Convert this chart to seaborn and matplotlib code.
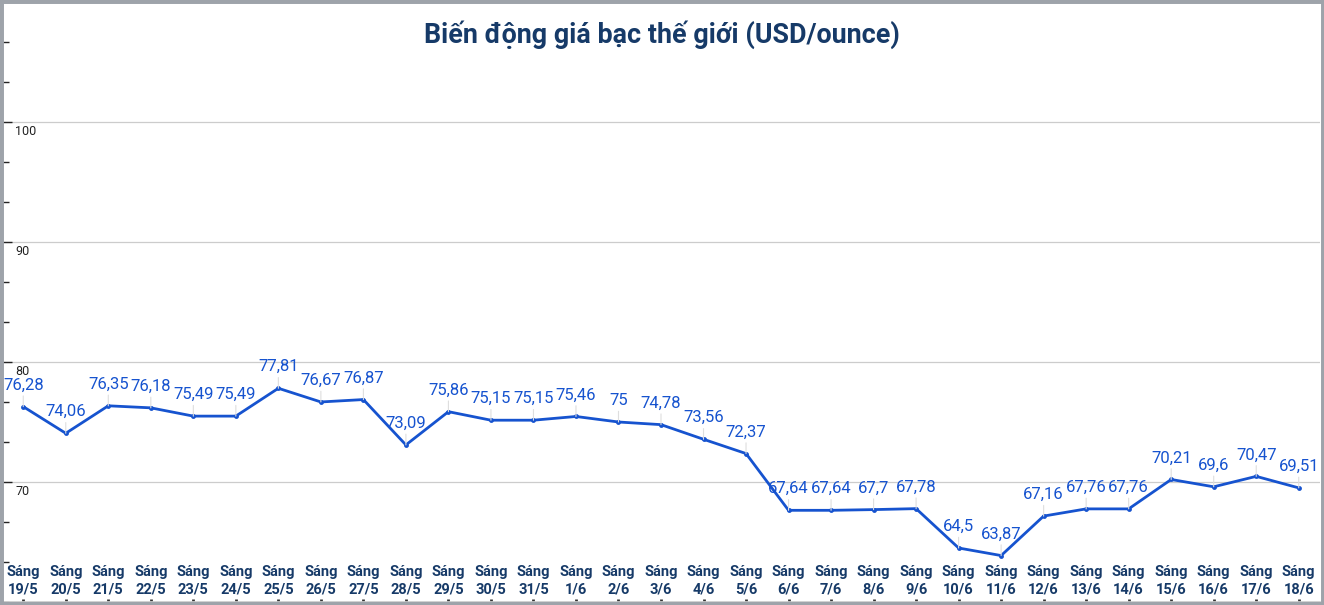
import numpy as np
import matplotlib
matplotlib.use("Agg")
import matplotlib.pyplot as plt
import matplotlib.transforms as mtransforms
import seaborn as sns
from matplotlib.patches import Rectangle
from matplotlib.ticker import MultipleLocator

dates = ["19/5", "20/5", "21/5", "22/5", "23/5", "24/5", "25/5", "26/5", "27/5", "28/5",
         "29/5", "30/5", "31/5", "1/6", "2/6", "3/6", "4/6", "5/6", "6/6", "7/6",
         "8/6", "9/6", "10/6", "11/6", "12/6", "13/6", "14/6", "15/6", "16/6", "17/6", "18/6"]
prices = [76.28, 74.06, 76.35, 76.18, 75.49, 75.49, 77.81, 76.67, 76.87, 73.09,
          75.86, 75.15, 75.15, 75.46, 75.00, 74.78, 73.56, 72.37, 67.64, 67.64,
          67.70, 67.78, 64.50, 63.87, 67.16, 67.76, 67.76, 70.21, 69.60, 70.47, 69.51]
price_labels = ["76,28", "74,06", "76,35", "76,18", "75,49", "75,49", "77,81", "76,67", "76,87", "73,09",
                "75,86", "75,15", "75,15", "75,46", "75", "74,78", "73,56", "72,37", "67,64", "67,64",
                "67,7", "67,78", "64,5", "63,87", "67,16", "67,76", "67,76", "70,21", "69,6", "70,47", "69,51"]
x_labels = ["Sáng\n" + d for d in dates]
y_ticks = [70, 80, 90, 100]
title = "Biến động giá bạc thế giới (USD/ounce)"

sns.set_theme(style="white")
plt.rcParams["font.family"] = ["Roboto", "DejaVu Sans"]

W, H = 1324, 605
fig = plt.figure(figsize=(W / 100, H / 100), dpi=100)
ax = fig.add_axes([2 / W, 3 / H, 1318 / W, 600 / H])

LINE = "#1653cf"
NAVY = "#163a68"

x = np.arange(len(prices))
sns.lineplot(x=x, y=prices, ax=ax, color=LINE, linewidth=2, marker="o",
             markersize=3.5, markeredgewidth=0, zorder=3)

for xi, v, lab in zip(x, prices, price_labels):
    ax.annotate(lab, xy=(xi, v), xytext=(0, 14), textcoords="offset pixels",
                ha="center", va="bottom", color=LINE, fontsize=12,
                arrowprops=dict(arrowstyle="-", color="#dedede", lw=0.8,
                                shrinkA=0, shrinkB=0, relpos=(0.5, 0.1)),
                zorder=4)

ax.set_xlim(-0.5, len(prices) - 0.5)
ax.set_ylim(60, 110)
ax.set_yticks(y_ticks)
ax.yaxis.set_minor_locator(MultipleLocator(10 / 3))
ax.grid(axis="y", which="major", color="#cccccc", linewidth=0.9)
ax.tick_params(axis="y", which="major", direction="in", length=7, width=1, color="#222222",
               labelleft=False, left=True)
ax.tick_params(axis="y", which="minor", direction="in", length=5, width=1, color="#222222", left=True)
ytrans = mtransforms.blended_transform_factory(ax.transAxes, ax.transData)
for yt in y_ticks:
    ax.annotate(str(yt), xy=(0, yt), xycoords=ytrans, xytext=(13, -3),
                textcoords="offset pixels", ha="left", va="top", fontsize=9, color="#222222")

ax.set_xticks(x)
ax.set_xticklabels([])
ax.tick_params(axis="x", which="major", direction="in", length=2, width=2, color="#333333", bottom=True)
for xi, lab in zip(x, x_labels):
    ax.annotate(lab, xy=(xi, 0), xycoords=ax.get_xaxis_transform(), xytext=(0, 6),
                textcoords="offset pixels", ha="center", va="bottom", fontsize=10.5,
                fontweight="bold", color=NAVY, linespacing=1.3)

for s in ax.spines.values():
    s.set_visible(False)
ax.spines["bottom"].set_visible(True)
ax.spines["bottom"].set_color("#cccccc")

fig.text(0.5, 1 - 35 / H, title, ha="center", va="center", fontsize=19.4,
         fontweight="bold", color=NAVY)

fig.patches.append(Rectangle((0, 0), 1, 1, transform=fig.transFigure, fill=False,
                             edgecolor="#9ea3aa", linewidth=5, zorder=10))

fig.savefig("out.png", dpi=100)
